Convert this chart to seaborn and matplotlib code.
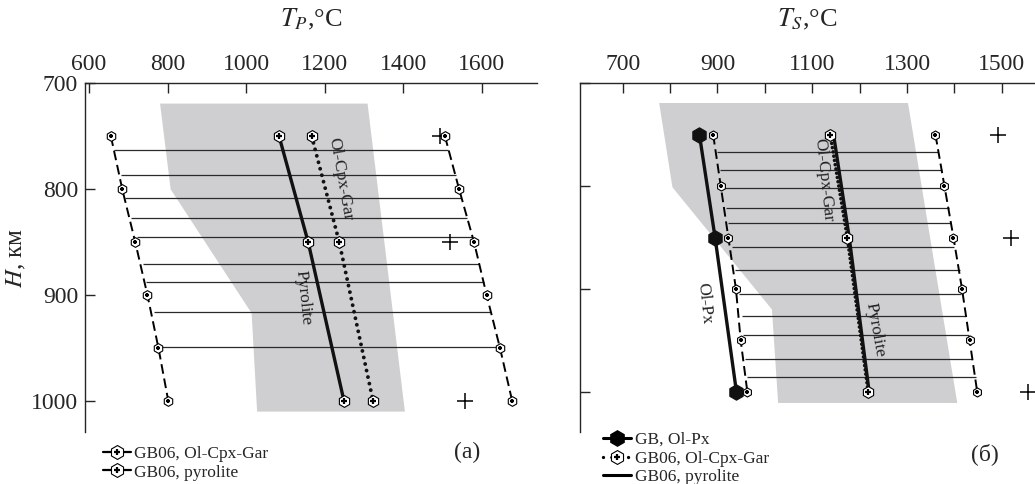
import matplotlib
matplotlib.use("Agg")
import matplotlib.pyplot as plt
from matplotlib.lines import Line2D
from matplotlib.legend_handler import HandlerTuple
import seaborn as sns

sns.set_style("ticks")
plt.rcParams.update({
    "font.family": ["Liberation Serif", "DejaVu Serif"],
    "mathtext.fontset": "stix",
    "font.size": 17,
    "lines.scale_dashes": False,
})

# depth nodes (km)
H_NODES = [750, 800, 850, 900, 950, 1000]
H_MID = [750, 850, 1000]

# ---- panel (а): T_P ----
a_left_T = [656, 685, 718, 749, 777, 802]
a_right_T = [1506, 1542, 1580, 1612, 1646, 1677]
a_pyr_T = [1084, 1158, 1249]
a_ocg_T = [1167, 1237, 1323]
a_plus_T = [1493, 1520, 1558]
a_hl_H = [763, 786, 808, 827, 845, 871, 888, 916, 949]
a_hl_left = [664, 681, 693, 707, 723, 737, 745, 765, 785]
a_hl_right = [1514, 1534, 1547, 1563, 1574, 1592, 1605, 1620, 1637]
a_poly_T = [781, 1309, 1404, 1028, 1014, 808]
a_poly_H = [719, 719, 1010, 1010, 917, 800]
a_xticks = [600, 800, 1000, 1200, 1400, 1600]
a_xlabels = ["600", "800", "1000", "1200", "1400", "1600"]

# ---- panel (б): T_S ----
b_left_T = [891, 907, 923, 939, 949, 963]
b_right_T = [1360, 1379, 1398, 1416, 1432, 1448]
b_olpx_T = [862, 895, 940]
b_ocg_T = [1138, 1174, 1218]
b_pyr_T = [1145, 1178, 1220]
b_plus_T = [1492, 1520, 1555]
b_hl_H = [767, 784, 802, 821, 836, 859, 882, 905, 926, 945, 968, 986]
b_hl_left = [898, 905, 916, 918, 923, 930, 937, 946, 951, 954, 958, 963]
b_hl_right = [1365, 1374, 1378, 1388, 1393, 1400, 1411, 1414, 1424, 1430, 1438, 1445]
b_poly_T = [777, 1302, 1406, 1028, 1015, 805]
b_poly_H = [719, 719, 1011, 1011, 920, 801]
b_xticks = [700, 800, 900, 1000, 1100, 1200, 1300, 1400, 1500]
b_xlabels = ["700", "", "900", "", "1100", "", "1300", "", "1500"]

y_ticks = [700, 800, 900, 1000]
y_labels = ["700", "800", "900", "1000"]

GRAY = "#cfcfd1"
DASH = (0, (7, 3.5))


def hexplus(ax, T, H, size=7.5, z=5):
    sns.scatterplot(x=T, y=H, marker="h", s=size ** 2, color="white",
                    edgecolor="black", linewidth=0.8, ax=ax, zorder=z, legend=False)
    ax.plot(T, H, ls="none", marker="+", ms=size * 0.5, mew=1.6, color="black", zorder=z + 1)


def branch(ax, T, H):
    sns.lineplot(x=T, y=H, sort=False, estimator=None, ax=ax, color="black",
                 lw=1.4, linestyle=DASH, zorder=3)


def style_axes(ax, xlim, ylim, xticks, xlabels, label):
    ax.set_xlim(*xlim)
    ax.set_ylim(*ylim)
    ax.xaxis.tick_top()
    ax.xaxis.set_label_position("top")
    ax.set_xticks(xticks, xlabels)
    ax.set_yticks(y_ticks)
    for s in ["bottom", "right"]:
        ax.spines[s].set_visible(False)
    for s in ["top", "left"]:
        ax.spines[s].set_linewidth(1.0)
    ax.tick_params(axis="both", direction="in", length=7, width=1.0, labelsize=17)
    ax.tick_params(axis="x", pad=6)
    ax.set_xlabel(label, fontsize=19, labelpad=20)


fig = plt.figure(figsize=(10.35, 4.84), dpi=100)
ax1 = fig.add_axes([0.0821, 0.108, 0.4367, 0.7195])
ax2 = fig.add_axes([0.5604, 0.108, 0.4396, 0.7195])

# ----- panel (а) -----
ax1.fill(a_poly_T, a_poly_H, color=GRAY, lw=0, zorder=0)
ax1.hlines(a_hl_H, a_hl_left, a_hl_right, color="#2a2a2a", lw=0.9, zorder=2)
branch(ax1, a_left_T, H_NODES)
branch(ax1, a_right_T, H_NODES)
sns.lineplot(x=a_pyr_T, y=H_MID, sort=False, estimator=None, ax=ax1,
             color="#111111", lw=2.4, zorder=3)
sns.lineplot(x=a_ocg_T, y=H_MID, sort=False, estimator=None, ax=ax1, color="#111111",
             lw=2.8, linestyle=(0, (0.01, 4.8)), dash_capstyle="round", zorder=3)
hexplus(ax1, a_left_T, H_NODES, 7)
hexplus(ax1, a_right_T, H_NODES, 7)
hexplus(ax1, a_pyr_T, H_MID, 8.5)
hexplus(ax1, a_ocg_T, H_MID, 8.5)
ax1.plot(a_plus_T, H_MID, ls="none", marker="+", ms=12, mew=1.1, color="black", zorder=4)
ax1.text(1145, 902, "Pyrolite", rotation=-84, fontsize=12.5, ha="center", va="center", color="#222")
ax1.text(1239, 790, "Ol-Cpx-Gar", rotation=-80, fontsize=12.5, ha="center", va="center", color="#222")
style_axes(ax1, (590, 1740), (1029, 700), a_xticks, a_xlabels, r"$T_P$,°C")
ax1.set_yticklabels(y_labels)
ax1.tick_params(axis="y", pad=5)
ax1.set_ylabel(r"$H$, км", fontsize=18, labelpad=2)

ha1 = (Line2D([], [], color="black", lw=1.6, marker="h", ms=10,
              mfc="white", mec="black", mew=0.8),
       Line2D([], [], ls="none", marker="+", ms=5, mew=1.6, color="black"))
ax1.legend([ha1, ha1], ["GB06, Ol-Cpx-Gar", "GB06, pyrolite"],
           handler_map={tuple: HandlerTuple(ndivide=1, pad=0)},
           loc="upper left", bbox_to_anchor=(0.04, -0.04), frameon=False, fontsize=12.5,
           handlelength=1.6, handletextpad=0.2, labelspacing=0.15, borderaxespad=0, borderpad=0)
ax1.text(0.845, -0.06, "(а)", transform=ax1.transAxes, fontsize=17, ha="center", va="center")

# ----- panel (б) -----
ax2.fill(b_poly_T, b_poly_H, color=GRAY, lw=0, zorder=0)
ax2.hlines(b_hl_H, b_hl_left, b_hl_right, color="#2a2a2a", lw=0.9, zorder=2)
branch(ax2, b_left_T, H_NODES)
branch(ax2, b_right_T, H_NODES)
sns.lineplot(x=b_olpx_T, y=H_MID, sort=False, estimator=None, ax=ax2,
             color="#111111", lw=2.4, zorder=3)
sns.lineplot(x=b_ocg_T, y=H_MID, sort=False, estimator=None, ax=ax2, color="#111111",
             lw=2.6, linestyle=(0, (0.01, 3.1)), dash_capstyle="round", zorder=3)
sns.lineplot(x=b_pyr_T, y=H_MID, sort=False, estimator=None, ax=ax2,
             color="#111111", lw=2.4, zorder=3)
sns.scatterplot(x=b_olpx_T, y=H_MID, marker="h", s=11 ** 2, color="#111111",
                edgecolor="#111111", ax=ax2, zorder=6, legend=False)
hexplus(ax2, b_left_T, H_NODES, 6.5)
hexplus(ax2, b_right_T, H_NODES, 6.5)
hexplus(ax2, b_ocg_T, H_MID, 8.5)
ax2.plot(b_plus_T, H_MID, ls="none", marker="+", ms=12, mew=1.1, color="black", zorder=4)
ax2.text(872, 914, "Ol-Px", rotation=-84, fontsize=12.5, ha="center", va="center", color="#222")
ax2.text(1123, 794, "Ol-Cpx-Gar", rotation=-84, fontsize=12.5, ha="center", va="center", color="#222")
ax2.text(1232, 940, "Pyrolite", rotation=-80, fontsize=12.5, ha="center", va="center", color="#222")
style_axes(ax2, (610, 1570), (1039, 700), b_xticks, b_xlabels, r"$T_S$,°C")
ax2.set_yticklabels([])

hb1 = Line2D([], [], color="black", lw=2.2, marker="h", ms=11, mfc="black", mec="black")
hb2 = (Line2D([], [], color="black", lw=2.4, ls=(0, (0.01, 6)), dash_capstyle="round",
              marker="h", ms=10, mfc="white", mec="black", mew=0.8),
       Line2D([], [], ls="none", marker="+", ms=5, mew=1.6, color="black"))
hb3 = Line2D([], [], color="black", lw=2.2)
ax2.legend([hb1, hb2, hb3], ["GB, Ol-Px", "GB06, Ol-Cpx-Gar", "GB06, pyrolite"],
           handler_map={tuple: HandlerTuple(ndivide=1, pad=0)},
           loc="upper left", bbox_to_anchor=(0.05, 0.0), frameon=False, fontsize=12.5,
           handlelength=1.6, handletextpad=0.25, labelspacing=0.15, borderaxespad=0, borderpad=0)
ax2.text(0.89, -0.065, "(б)", transform=ax2.transAxes, fontsize=17, ha="center", va="center")

fig.savefig("out.png", dpi=100)
